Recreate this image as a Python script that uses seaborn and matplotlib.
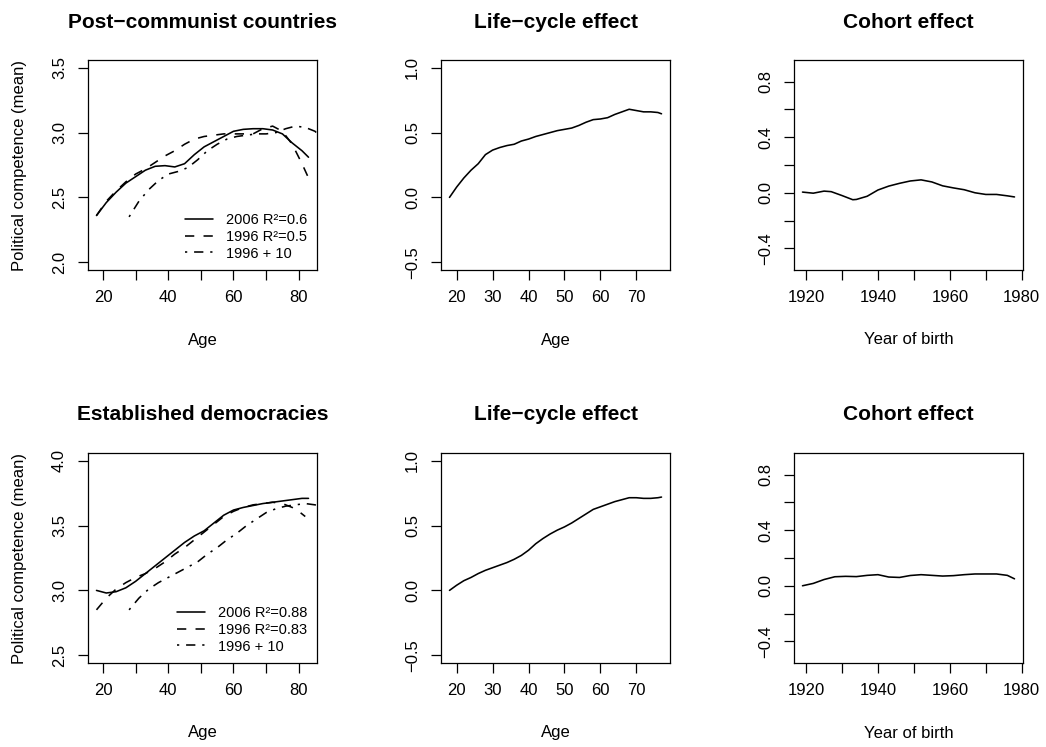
import matplotlib
matplotlib.use("Agg")
import matplotlib.pyplot as plt
import seaborn as sns
import pandas as pd

# ---------------- data ----------------
# Post-communist countries
pc_age_2006 = [18, 21, 24, 27, 30, 33, 36, 39, 42, 45, 48, 51, 54, 57, 60, 63, 66, 69, 72, 75, 78, 81, 83]
pc_2006 = [2.36, 2.46, 2.54, 2.61, 2.66, 2.71, 2.74, 2.745, 2.735, 2.76, 2.83, 2.89, 2.93, 2.97,
           3.01, 3.025, 3.03, 3.03, 3.02, 2.99, 2.92, 2.86, 2.81]
pc_age_1996 = [18, 21, 24, 27, 30, 33, 36, 39, 42, 45, 48, 51, 54, 57, 60, 63, 66, 69, 72, 75, 78, 81, 83]
pc_1996 = [2.36, 2.47, 2.55, 2.62, 2.68, 2.72, 2.77, 2.82, 2.86, 2.91, 2.95, 2.97, 2.98, 2.99,
           2.99, 2.99, 2.99, 3.03, 3.05, 3.01, 2.91, 2.76, 2.65]
pc_age_plus10 = [28, 31, 34, 37, 40, 43, 46, 49, 52, 55, 58, 61, 64, 67, 70, 73, 76, 79, 82, 85, 88]
pc_plus10 = [2.35, 2.47, 2.56, 2.63, 2.68, 2.70, 2.73, 2.79, 2.86, 2.91, 2.95, 2.97, 2.98, 2.99,
             2.99, 3.00, 3.03, 3.05, 3.04, 3.01, 2.93]

# Established democracies
ed_age_2006 = [18, 21, 24, 27, 30, 33, 36, 39, 42, 45, 48, 51, 54, 57, 60, 63, 66, 69, 72, 75, 78, 81, 83]
ed_2006 = [3.00, 2.98, 2.99, 3.02, 3.07, 3.13, 3.19, 3.25, 3.31, 3.37, 3.42, 3.46, 3.52, 3.58,
           3.62, 3.64, 3.655, 3.67, 3.68, 3.69, 3.70, 3.71, 3.71]
ed_age_1996 = [18, 21, 24, 27, 30, 33, 36, 39, 42, 45, 48, 51, 54, 57, 60, 63, 66, 69, 72, 75, 78, 80, 82]
ed_1996 = [2.85, 2.94, 3.01, 3.06, 3.10, 3.13, 3.17, 3.22, 3.28, 3.33, 3.39, 3.45, 3.51, 3.57,
           3.61, 3.64, 3.66, 3.67, 3.68, 3.67, 3.64, 3.61, 3.57]
ed_age_plus10 = [28, 31, 34, 37, 40, 43, 46, 49, 52, 55, 58, 61, 64, 67, 70, 73, 76, 79, 82, 85, 88]
ed_plus10 = [2.85, 2.94, 3.01, 3.06, 3.10, 3.14, 3.18, 3.22, 3.28, 3.33, 3.39, 3.44, 3.50, 3.55,
             3.60, 3.63, 3.65, 3.66, 3.67, 3.66, 3.64]

# Life-cycle effects
lc_age = [18, 20, 22, 24, 26, 28, 30, 32, 34, 36, 38, 40, 42, 44, 46, 48, 50, 52, 54, 56, 58, 60,
          62, 64, 66, 68, 70, 72, 74, 76, 77]
lc_pc = [0.0, 0.08, 0.15, 0.21, 0.26, 0.33, 0.365, 0.385, 0.40, 0.41, 0.435, 0.45, 0.47, 0.485,
         0.50, 0.515, 0.525, 0.535, 0.555, 0.58, 0.60, 0.605, 0.615, 0.64, 0.66, 0.68, 0.67, 0.66,
         0.66, 0.655, 0.645]
lc_ed = [0.0, 0.04, 0.075, 0.10, 0.13, 0.155, 0.175, 0.195, 0.215, 0.24, 0.27, 0.31, 0.36, 0.40,
         0.435, 0.465, 0.49, 0.52, 0.555, 0.59, 0.625, 0.645, 0.665, 0.685, 0.70, 0.715, 0.715,
         0.71, 0.71, 0.715, 0.72]

# Cohort effects
co_year_pc = [1919, 1922, 1925, 1927, 1930, 1933, 1934, 1937, 1940, 1943, 1946, 1949, 1952, 1955,
              1958, 1961, 1964, 1967, 1970, 1973, 1976, 1978]
co_pc = [0.005, -0.003, 0.012, 0.008, -0.02, -0.05, -0.048, -0.025, 0.02, 0.048, 0.068, 0.085,
         0.093, 0.078, 0.05, 0.035, 0.022, 0.0, -0.012, -0.012, -0.022, -0.03]
co_year_ed = [1919, 1922, 1925, 1928, 1931, 1934, 1937, 1940, 1943, 1946, 1949, 1952, 1955, 1958,
              1961, 1964, 1967, 1970, 1973, 1976, 1978]
co_ed = [0.0, 0.017, 0.045, 0.065, 0.068, 0.066, 0.075, 0.08, 0.063, 0.06, 0.074, 0.08, 0.075,
         0.07, 0.073, 0.08, 0.085, 0.085, 0.085, 0.075, 0.05]

row_titles = ["Post\u2212communist countries", "Established democracies"]
lc_title = "Life\u2212cycle effect"
co_title = "Cohort effect"
legend_pc = ["2006 R\u00b2=0.6", "1996 R\u00b2=0.5", "1996 + 10"]
legend_ed = ["2006 R\u00b2=0.88", "1996 R\u00b2=0.83", "1996 + 10"]

# ---------------- style ----------------
sns.set_theme(style="white")
plt.rcParams["font.family"] = ["Liberation Sans", "DejaVu Sans"]
plt.rcParams.update({
    "axes.edgecolor": "black",
    "axes.linewidth": 0.9,
    "xtick.color": "black",
    "ytick.color": "black",
    "text.color": "black",
    "axes.labelcolor": "black",
})

W, H = 1046, 747
fig = plt.figure(figsize=(W / 100, H / 100), dpi=100)

cols_px = [88, 441, 794]
rows_px = [60, 453]
aw, ah = 229, 210

DASHED = (0, (5.8, 5.8))
DASHDOT = (0, (1.4, 4.3, 5.8, 4.3))
LW = 1.15


def make_ax(c, r):
    l = cols_px[c] / W
    b = (H - rows_px[r] - ah) / H
    ax = fig.add_axes([l, b, aw / W, ah / H])
    for s in ax.spines.values():
        s.set_visible(True)
        s.set_color("black")
        s.set_linewidth(0.9)
    ax.tick_params(axis="both", which="major", direction="out", length=7.2, width=0.9,
                   labelsize=12, bottom=True, left=True, top=False, right=False)
    ax.tick_params(axis="x", pad=7)
    ax.tick_params(axis="y", pad=8, labelrotation=90)
    return ax


def setup(ax, xlim, ylim, xticks, xlabels, yticks, ylabels, title, xlabel, ylabel=None):
    ax.set_xlim(*xlim)
    ax.set_ylim(*ylim)
    ax.set_xticks(xticks)
    ax.set_xticklabels(xlabels)
    ax.set_yticks(yticks)
    ax.set_yticklabels(ylabels, va="center")
    ax.set_title(title, fontsize=15, fontweight="bold", y=1 + 38 / ah, va="center", pad=0)
    ax.set_xlabel(xlabel, fontsize=12)
    ax.xaxis.set_label_coords(0.5, -70 / ah)
    ax.xaxis.label.set_va("center")
    if ylabel:
        ax.set_ylabel(ylabel, fontsize=12)
        ax.yaxis.set_label_coords(-68 / aw, 0.5)
        ax.yaxis.label.set_va("center")
    else:
        ax.set_ylabel("")


def exp_lim(lo, hi):
    r = hi - lo
    return lo - 0.04 * r, hi + 0.04 * r


age_ticks = [20, 30, 40, 50, 60, 70, 80]
age_labels = ["20", "", "40", "", "60", "", "80"]
lc_ticks = [20, 30, 40, 50, 60, 70]
lc_labels = [str(t) for t in lc_ticks]
yr_ticks = [1920, 1930, 1940, 1950, 1960, 1970, 1980]
yr_labels = ["1920", "", "1940", "", "1960", "", "1980"]
co_yticks = [-0.4, -0.2, 0.0, 0.2, 0.4, 0.6, 0.8]
co_ylabels = ["\u22120.4", "", "0.0", "", "0.4", "", "0.8"]
lc_yticks = [-0.5, 0.0, 0.5, 1.0]
lc_ylabels = ["\u22120.5", "0.0", "0.5", "1.0"]

panels = [
    (pc_age_2006, pc_2006, pc_age_1996, pc_1996, pc_age_plus10, pc_plus10, legend_pc,
     (2.0, 3.5), [2.0, 2.5, 3.0, 3.5], lc_pc, co_year_pc, co_pc),
    (ed_age_2006, ed_2006, ed_age_1996, ed_1996, ed_age_plus10, ed_plus10, legend_ed,
     (2.5, 4.0), [2.5, 3.0, 3.5, 4.0], lc_ed, co_year_ed, co_ed),
]

for r, (a06, v06, a96, v96, a10, v10, leg, ylim, yt, lc, cy, cv) in enumerate(panels):
    # --- main panel ---
    ax = make_ax(0, r)
    sns.lineplot(x=a06, y=v06, ax=ax, color="black", linewidth=LW, estimator=None, sort=False)
    sns.lineplot(x=a96, y=v96, ax=ax, color="black", linewidth=LW, estimator=None, sort=False,
                 linestyle=DASHED)
    sns.lineplot(x=a10, y=v10, ax=ax, color="black", linewidth=LW, estimator=None, sort=False,
                 linestyle=DASHDOT)
    ax.lines[1].set_linestyle(DASHED)
    ax.lines[2].set_linestyle(DASHDOT)
    setup(ax, exp_lim(18, 83), exp_lim(*ylim), age_ticks, age_labels, yt,
          [f"{t:.1f}" for t in yt], row_titles[r], "Age", "Political competence (mean)")
    ax.legend(ax.lines[:3], leg, loc="lower right", frameon=False, fontsize=10.5,
              handlelength=1.9, handletextpad=0.9, labelspacing=0.18,
              borderaxespad=0.35, borderpad=0.3)

    # --- life-cycle panel ---
    ax2 = make_ax(1, r)
    sns.lineplot(x=lc_age, y=lc, ax=ax2, color="black", linewidth=LW, estimator=None, sort=False)
    setup(ax2, exp_lim(18, 77), exp_lim(-0.5, 1.0), lc_ticks, lc_labels, lc_yticks, lc_ylabels,
          lc_title, "Age")

    # --- cohort panel ---
    ax3 = make_ax(2, r)
    sns.lineplot(x=cy, y=cv, ax=ax3, color="black", linewidth=LW, estimator=None, sort=False)
    setup(ax3, exp_lim(1919, 1978), exp_lim(-0.5, 0.9), yr_ticks, yr_labels, co_yticks,
          co_ylabels, co_title, "Year of birth")

fig.savefig("out.png", dpi=100, facecolor="white")
